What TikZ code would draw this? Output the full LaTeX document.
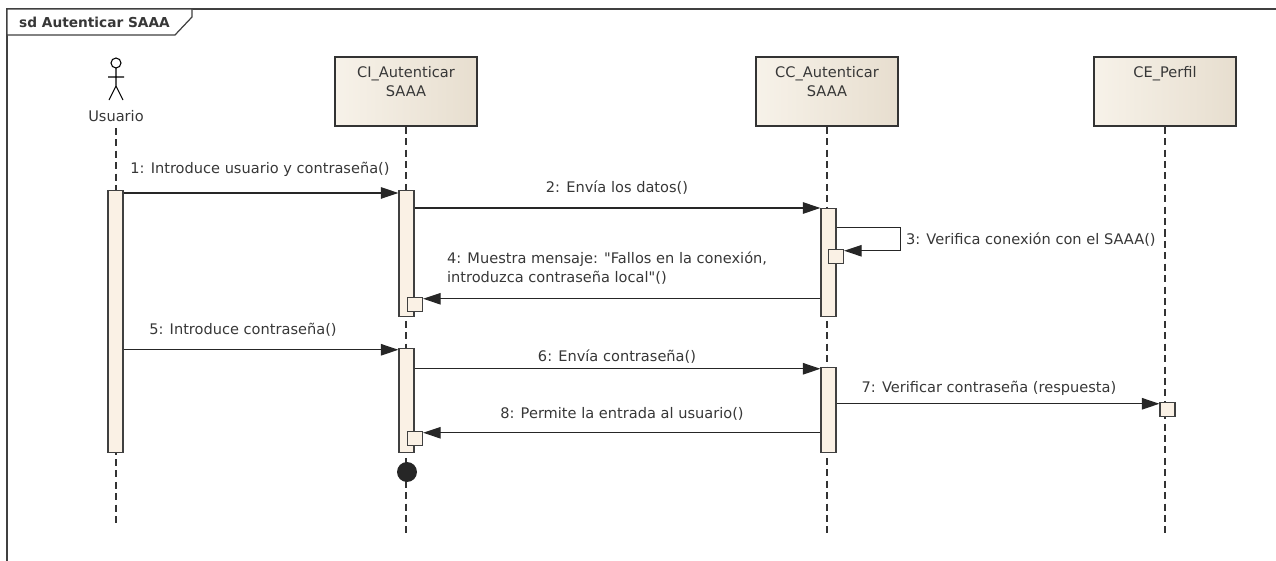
\documentclass[tikz,border=0pt]{standalone}
\usepackage{fontspec}
\setmainfont{DejaVu Sans}
\usepackage{tikz}
\usetikzlibrary{arrows.meta, positioning, shapes}

\definecolor{boxleft}{RGB}{247,242,233}
\definecolor{boxright}{RGB}{231,222,207}
\definecolor{barfill}{RGB}{250,241,229}
\definecolor{ink}{RGB}{55,55,55}

\begin{document}
\begin{tikzpicture}[
        x=0.02cm, y=-0.02cm,
        font=\fontsize{8.3}{11}\selectfont,
        every node/.style={text=ink},
        classbox/.style={rectangle, draw=black!80, line width=0.8pt, left color=boxleft, right color=boxright, minimum width=2.84cm, minimum height=1.38cm},
        bar/.style={rectangle, draw=black!75, line width=0.6pt, fill=barfill, minimum width=0.3cm, inner sep=0pt, anchor=north},
        execbox/.style={bar, minimum height=0.28cm},
        lifeline/.style={draw=black!80, line width=0.6pt, dash pattern=on 4pt off 2.5pt},
        msg/.style={-{Triangle[length=10pt, width=6.5pt]}, draw=black!85, line width=0.7pt},
        lbl/.style={inner sep=1pt}
    ]
        \useasboundingbox (0,0) rectangle (1276,561);

        % Frame
        \draw[draw=black!75, line width=0.7pt] (7,561) -- (7,9) -- (1276,9);
        \draw[draw=black!75, line width=0.7pt, fill=white] (7,9) -- (192,9) -- (192,17) -- (175,35) -- (7,35) -- cycle;
        \node[anchor=west, font=\bfseries\fontsize{7.8}{9}\selectfont] (title) at (13,22) {sd Autenticar SAAA};

        % Actor
        \draw[line width=0.6pt] (116,63) circle[radius=5];
        \draw[line width=0.6pt] (116,68) -- (116,86) (108,77) -- (124,77) (109,100) -- (116,86) -- (123,100);
        \node (usr) at (116,116) {Usuario};

        % Objects
        \node[classbox] (ci) at (406,91.5) {};
        \node[below=2pt of ci.north, align=center] (ciname) {CI\_Autenticar\\SAAA};
        \node[classbox] (cc) at (827,91.5) {};
        \node[below=2pt of cc.north, align=center] (ccname) {CC\_Autenticar\\SAAA};
        \node[classbox] (ce) at (1165,91.5) {};
        \node[below=2pt of ce.north, align=center] (cename) {CE\_Perfil};

        % Lifelines
        \coordinate (ubottom) at (0,525);
        \coordinate (bottom) at (0,537);
        \draw[lifeline] (usr.south) -- (usr.south |- ubottom);
        \draw[lifeline] (ci.south) -- (ci.south |- bottom);
        \draw[lifeline] (cc.south) -- (cc.south |- bottom);
        \draw[lifeline] (ce.south) -- (ce.south |- bottom);

        % Activations
        \node[bar, minimum height=5.24cm] (ubar) at (115.5,190) {};
        \node[bar, minimum height=2.52cm] (ci1) at (406.5,190) {};
        \node[bar, minimum height=2.16cm] (cc1) at (828.5,208) {};
        \node[bar, minimum height=2.08cm] (ci2) at (406.5,348) {};
        \node[bar, minimum height=1.70cm] (cc2) at (828.5,367) {};
        \node[execbox, anchor=north west] (ci1s) at (407,297) {};
        \node[execbox, anchor=north west] (cc1s) at (828,249) {};
        \node[execbox, anchor=north west] (ci2s) at (407,431) {};
        \node[execbox] (ce1s) at (1167.5,402) {};

        % Messages
        \draw[msg] ([yshift=-1.7pt]ubar.north east) -- ([yshift=-1.7pt]ci1.north west);
        \node[lbl] (l1) at (260,169) {1: Introduce usuario y contraseña()};
        \draw[msg] (ci1.east |- cc1.north) -- (cc1.north west);
        \node[lbl] (l2) at (617,188) {2: Envía los datos()};
        \draw[msg] ([yshift=-11.3pt]cc1.north east) -- ++(64,0) |- ([yshift=-1pt]cc1s.north east);
        \node[lbl, anchor=west] (l3) at (904,240) {3: Verifica conexión con el SAAA()};
        \draw[msg] ([yshift=-1pt]cc1.west |- ci1s.north) -- ([yshift=-1pt]ci1s.north east);
        \node[lbl, anchor=west, align=left] (l4) at (445,268) {4: Muestra mensaje: \textquotedbl Fallos en la conexión,\\introduzca contraseña local\textquotedbl()};
        \draw[msg] ([yshift=-1pt]ubar.east |- ci2.north) -- ([yshift=-1pt]ci2.north west);
        \node[lbl] (l5) at (243,330) {5: Introduce contraseña()};
        \draw[msg] ([yshift=-1pt]ci2.east |- cc2.north) -- ([yshift=-1pt]cc2.north west);
        \node[lbl] (l6) at (617,357) {6: Envía contraseña()};
        \draw[msg] ([yshift=-1pt]cc2.east |- ce1s.north) -- ([yshift=-1pt]ce1s.north west);
        \node[lbl] (l7) at (989,388) {7: Verificar contraseña (respuesta)};
        \draw[msg] ([yshift=-1pt]cc2.west |- ci2s.north) -- ([yshift=-1pt]ci2s.north east);
        \node[lbl] (l8) at (622,414) {8: Permite la entrada al usuario()};

        % End of CI
        \node[circle, fill=black!85, minimum size=0.4cm, inner sep=0pt] (stop) at (407,472) {};

    \end{tikzpicture}
\end{document}
